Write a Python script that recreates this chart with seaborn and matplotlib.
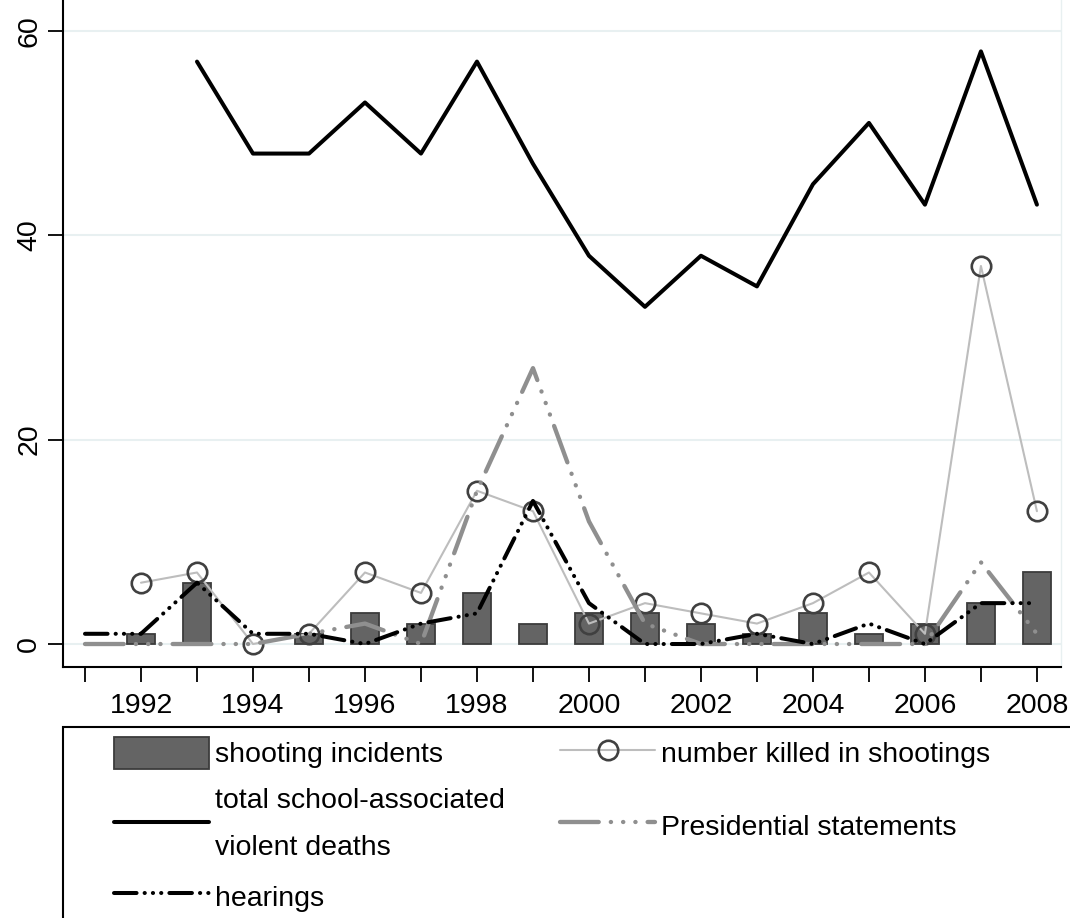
import numpy as np
import pandas as pd
import matplotlib
matplotlib.use("Agg")
import matplotlib.pyplot as plt
from matplotlib.patches import Patch, Rectangle
from matplotlib.lines import Line2D
import seaborn as sns

# data
years = list(range(1991, 2009))
shooting_incidents = [0, 1, 6, 0, 1, 3, 2, 5, 2, 3, 3, 2, 1, 3, 1, 2, 4, 7]
killed_in_shootings = [np.nan, 6, 7, 0, 1, 7, 5, 15, 13, 2, 4, 3, 2, 4, 7, 1, 37, 13]
total_violent_deaths = [np.nan, np.nan, 57, 48, 48, 53, 48, 57, 47, 38, 33, 38,
                        35, 45, 51, 43, 58, 43]
presidential_statements = [0, 0, 0, 0, 1, 2, 0, 15, 27, 12, 2, 0, 0, 0, 0, 0, 8, 1]
hearings = [1, 1, 6, 1, 1, 0, 2, 3, 14, 4, 0, 0, 1, 0, 2, 0, 4, 4]

y_ticks = [0, 20, 40, 60]
x_label_years = list(range(1992, 2009, 2))

df = pd.DataFrame({
    "year": years,
    "incidents": shooting_incidents,
    "killed": killed_in_shootings,
    "total": total_violent_deaths,
    "presidential": presidential_statements,
    "hearings": hearings,
})

sns.set_theme(style="white")
plt.rcParams["font.family"] = ["Liberation Sans", "DejaVu Sans"]
plt.rcParams["text.color"] = "black"
plt.rcParams["xtick.color"] = "black"
plt.rcParams["ytick.color"] = "black"

W, H = 1070, 918
fig = plt.figure(figsize=(W / 100, H / 100), dpi=100)
ax = fig.add_axes([63 / W, 1 - 667 / H, (1061 - 63) / W, 667 / H])

bar_fc, bar_ec = "#646464", "#3c3c3c"
pres_c = "#8f8f8f"
killed_c = "#bdbdbd"
fs = 20.5

# styles (dash lengths in units of line width)
pres_lw = 3.1
pres_dash = [9.0, 2.8, 0.05, 2.8, 0.05, 2.8, 0.05, 2.8]
hear_lw = 2.9
hear_dash = [5.6, 2.0, 0.05, 2.0, 0.05, 2.0, 0.05, 2.0]

# bars
sns.barplot(data=df[df["incidents"] > 0], x="year", y="incidents",
            native_scale=True, width=0.5, color=bar_fc, edgecolor=bar_ec,
            linewidth=1.3, saturation=1, errorbar=None, ax=ax, zorder=2)

# total deaths
sns.lineplot(data=df, x="year", y="total", color="black", lw=2.9, ax=ax, zorder=3)

# number killed
sns.lineplot(data=df, x="year", y="killed", color=killed_c, lw=1.5, marker="o",
             markersize=14, markerfacecolor="none", markeredgecolor="#404040",
             markeredgewidth=1.9, ax=ax, zorder=4)

# presidential statements
sns.lineplot(data=df, x="year", y="presidential", color=pres_c, lw=pres_lw,
             ax=ax, zorder=5)
ax.lines[-1].set_dashes(pres_dash)
ax.lines[-1].set_dash_capstyle("round")

# hearings
sns.lineplot(data=df, x="year", y="hearings", color="black", lw=hear_lw,
             ax=ax, zorder=6)
ax.lines[-1].set_dashes(hear_dash)
ax.lines[-1].set_dash_capstyle("round")

# axes
ax.set_xlim(1990.607, 2008.43)
ax.set_ylim(-2.25, 63.03)
ax.set_xticks(years)
ax.set_xticklabels([str(y) if y in x_label_years else "" for y in years])
ax.set_yticks(y_ticks)
ax.set_yticklabels([str(v) for v in y_ticks], rotation=90, va="center")
ax.set_xlabel("")
ax.set_ylabel("")
ax.tick_params(axis="both", direction="out", length=11, width=1.3,
               color="black", labelsize=fs, labelcolor="black",
               bottom=True, left=True)
ax.tick_params(axis="x", pad=8)
ax.tick_params(axis="y", pad=4)
ax.yaxis.grid(True, color="#e8f0f1", lw=1.5)
ax.xaxis.grid(False)
ax.set_axisbelow(True)
for side in ["left", "bottom"]:
    ax.spines[side].set_color("black")
    ax.spines[side].set_linewidth(1.5)
ax.spines["top"].set_visible(False)
ax.spines["right"].set_color("#e8f0f1")
ax.spines["right"].set_linewidth(1)

# legend box
fig.add_artist(Rectangle((63 / W, -0.05), 1.1, (H - 727) / H + 0.05,
                         transform=fig.transFigure, fill=False, ec="black",
                         lw=1.5, clip_on=False))

bar_h = Patch(facecolor=bar_fc, edgecolor=bar_ec, lw=1.3)
total_h = Line2D([], [], color="black", lw=2.9)
hear_h = Line2D([], [], color="black", lw=hear_lw, dashes=hear_dash,
                dash_capstyle="round")
killed_h = Line2D([], [], color=killed_c, lw=1.5, marker="o", markersize=14,
                  markerfacecolor="none", markeredgecolor="#404040",
                  markeredgewidth=1.9)
pres_h = Line2D([], [], color=pres_c, lw=pres_lw, dashes=pres_dash,
                dash_capstyle="round")

common = dict(loc="upper left", frameon=False, fontsize=fs, handlelength=3.34,
              handleheight=1.34, handletextpad=0.2, borderpad=0,
              borderaxespad=0, labelcolor="black")
leg1 = fig.legend(handles=[bar_h, total_h, hear_h],
                  labels=["shooting incidents",
                          "total school-associated\nviolent deaths",
                          "hearings"],
                  bbox_to_anchor=(114 / W, 1 - 737 / H), labelspacing=0.68,
                  **common)
for t in leg1.get_texts():
    t.set_linespacing(2.05)
leg2 = fig.legend(handles=[killed_h, pres_h],
                  labels=["number killed in shootings", "Presidential statements"],
                  bbox_to_anchor=(560 / W, 1 - 737 / H), labelspacing=1.42,
                  **common)

fig.savefig("out.png", dpi=100)
